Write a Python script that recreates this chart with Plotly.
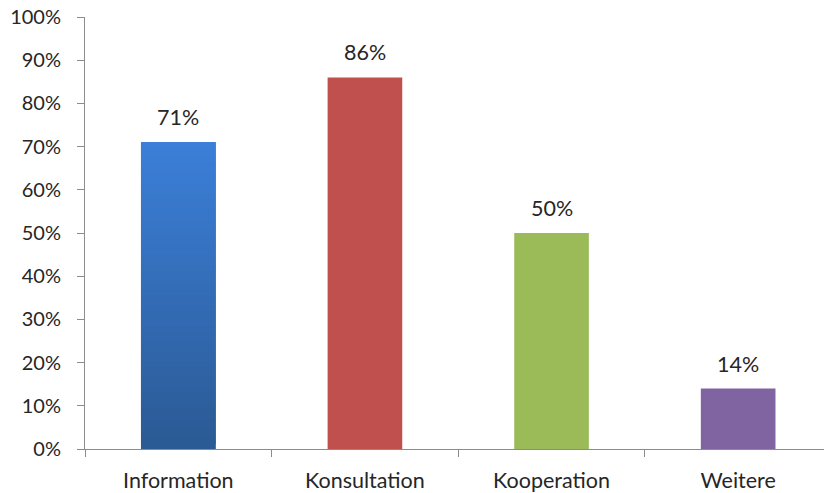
import plotly.graph_objects as go

categories = ["Information", "Konsultation", "Kooperation", "Weitere"]
values = [0.71, 0.86, 0.50, 0.14]
labels = ["71%", "86%", "50%", "14%"]
bar_colors = ["#3A7BD5", "#C0504D", "#9BBB59", "#8064A2"]
y_ticks = [i / 10 for i in range(11)]
y_tick_text = [f"{i * 10}%" for i in range(11)]

# vertical gradient for the first bar (light top, dark bottom)
grad_top = (0x3B, 0x7F, 0xD8)
grad_bottom = (0x2B, 0x5A, 0x94)
n_slices = 60

font_family = "Lato, 'Open Sans', sans-serif"
text_color = "#262626"
axis_color = "#8C8C8C"

fig = go.Figure()

fig.add_trace(go.Bar(
    x=categories, y=values, width=0.4,
    marker=dict(color=bar_colors, line=dict(width=0)),
    hoverinfo="skip", showlegend=False,
))

# overlapping slices stacked over the first bar to give it a gradient fill
v0 = values[0]
step = v0 / n_slices
bases = [i * step for i in range(n_slices)]
heights = [min(2 * step, v0 - b) for b in bases]
slice_colors = []
for i in range(n_slices):
    t = i / (n_slices - 1)
    c = tuple(round(grad_bottom[k] + (grad_top[k] - grad_bottom[k]) * t) for k in range(3))
    slice_colors.append("rgb(%d,%d,%d)" % c)
fig.add_trace(go.Bar(
    x=[categories[0]] * n_slices,
    y=heights,
    base=bases,
    width=0.4,
    marker=dict(color=slice_colors, line=dict(width=0)),
    hoverinfo="skip", showlegend=False,
))

for cat, v, lab in zip(categories, values, labels):
    fig.add_annotation(
        x=cat, y=v, text=lab, showarrow=False, yshift=25,
        font=dict(family=font_family, size=21.5, color=text_color),
    )

fig.update_layout(
    width=824, height=493,
    margin=dict(l=85, r=0, t=17, b=44),
    paper_bgcolor="white", plot_bgcolor="white",
    barmode="overlay",
    font=dict(family=font_family, size=19, color=text_color),
    xaxis=dict(
        type="category",
        range=[-0.5, 3.46],
        showline=True, linecolor=axis_color, linewidth=1,
        ticks="outside", tickson="boundaries", ticklen=7,
        tickcolor=axis_color, ticklabelstandoff=12,
        showgrid=False, zeroline=False,
        tickfont=dict(family=font_family, size=21.5, color=text_color),
    ),
    yaxis=dict(
        range=[0, 1],
        tickvals=y_ticks, ticktext=y_tick_text,
        showline=True, linecolor=axis_color, linewidth=1,
        ticks="outside", ticklen=7, tickcolor=axis_color,
        ticklabelstandoff=12,
        showgrid=False, zeroline=False,
        tickfont=dict(family=font_family, size=20, color=text_color),
    ),
)

fig.write_html("out.html")
